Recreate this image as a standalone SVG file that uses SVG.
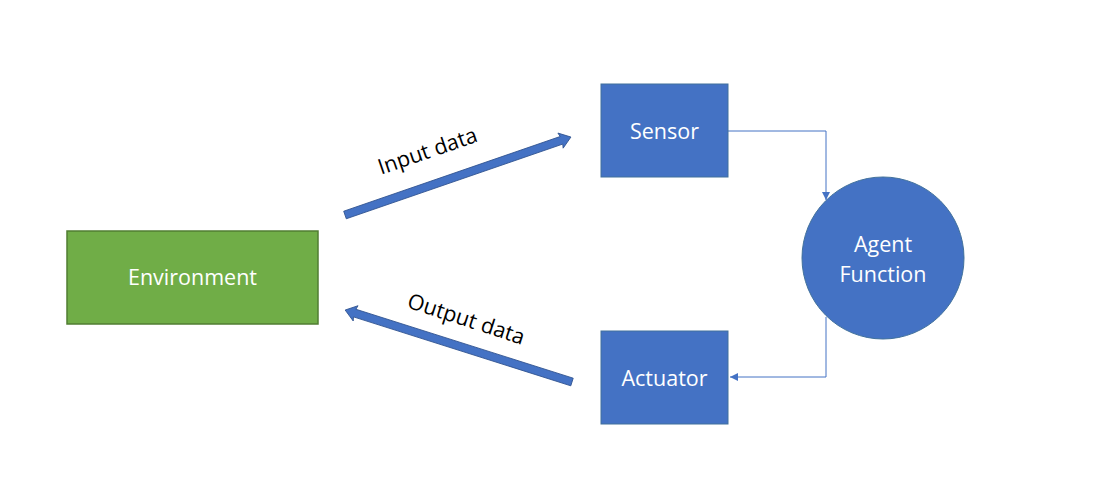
<svg xmlns="http://www.w3.org/2000/svg" width="1099" height="489" viewBox="0 0 1099 489">
<defs>
<style>
.box{fill:#4472C4;stroke:#41719C;stroke-width:1}
.env{fill:#70AD47;stroke:#507E32;stroke-width:1.5}
.lbl{font-family:"Open Sans","Noto Sans","Liberation Sans",sans-serif;font-size:21.5px;fill:#FFFFFF;text-anchor:middle}
.tag{font-family:"Open Sans","Noto Sans","Liberation Sans",sans-serif;font-size:21.5px;fill:#000000;text-anchor:middle}
.fat{fill:#4472C4;stroke:#2F528F;stroke-width:0.8}
.thin{fill:none;stroke:#4472C4;stroke-width:1}
</style>
<marker id="tri" viewBox="0 0 10 10" refX="10" refY="5" markerWidth="8" markerHeight="8" markerUnits="userSpaceOnUse" orient="auto">
<path d="M0,0 L10,5 L0,10 z" fill="#4472C4"/>
</marker>
</defs>
<rect width="1099" height="489" fill="#FFFFFF"/>
<g id="connectors">
<polygon class="fat" transform="translate(345,215) rotate(-19.04)" points="0,-4 229,-4 228,-8 239,0 228,8 229,4 0,4"/>
<polygon class="fat" transform="translate(572,382) rotate(197.6)" points="0,-4 228,-4 227,-8 238,0 227,8 228,4 0,4"/>
<polyline class="thin" points="728,131 826,131 826,200" marker-end="url(#tri)"/>
<polyline class="thin" points="826,317 826,377 730,377" marker-end="url(#tri)"/>
<text class="tag" transform="translate(430,158) rotate(-19)">Input data</text>
<text class="tag" transform="translate(464,326) rotate(18)">Output data</text>
</g>
<g id="environment">
<rect class="env" x="67" y="231" width="251" height="93"/>
<text class="lbl" x="192.5" y="285">Environment</text>
</g>
<g id="sensor">
<rect class="box" x="601" y="84" width="127" height="93"/>
<text class="lbl" x="664.5" y="139">Sensor</text>
</g>
<g id="actuator">
<rect class="box" x="601" y="331" width="127" height="93"/>
<text class="lbl" x="664.5" y="386">Actuator</text>
</g>
<g id="agent-function">
<circle class="box" cx="883" cy="258" r="81"/>
<text class="lbl" x="883" y="252">Agent</text>
<text class="lbl" x="883" y="282">Function</text>
</g>
</svg>
